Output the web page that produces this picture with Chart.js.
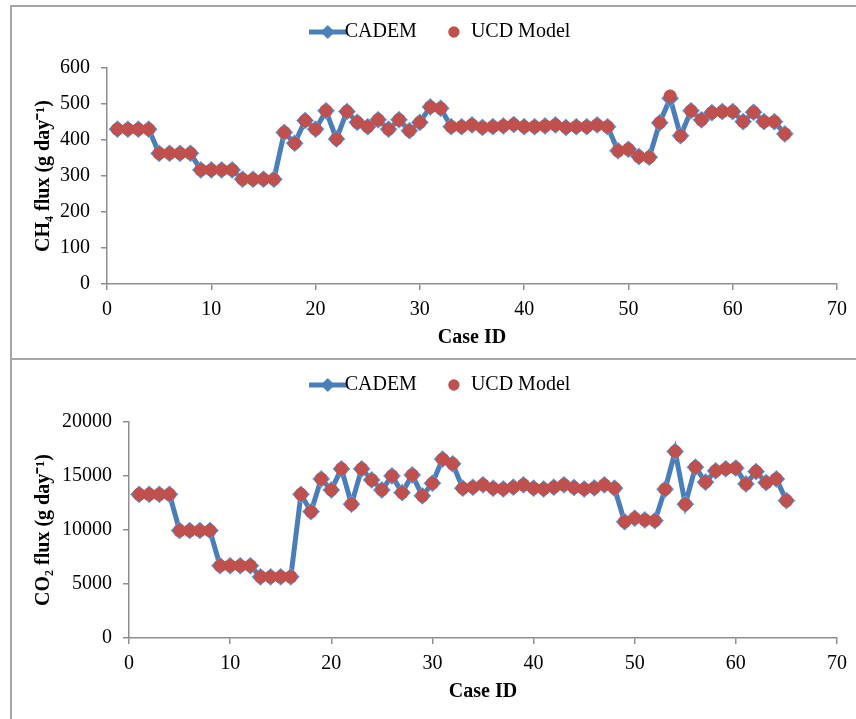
<!DOCTYPE html>
<html>
<head>
<meta charset="utf-8">
<title>CADEM vs UCD Model</title>
<script src="https://cdn.jsdelivr.net/npm/chart.js@4/dist/chart.umd.min.js"></script>
<style>
  html, body { margin: 0; padding: 0; background: #fff; overflow: hidden; }
  body { width: 856px; height: 719px; position: relative; }
  .panel { position: absolute; left: 10px; width: 900px; border: 2px solid #a5a5a5; box-sizing: border-box; }
  #panel1 { top: 5px; height: 355px; }
  #panel2 { top: 358px; height: 400px; }
  canvas { position: absolute; }
  #ch4Chart { left: 12px; top: 7px; }
  #co2Chart { left: 12px; top: 360px; }
</style>
</head>
<body>
<div class="panel" id="panel1"></div>
<div class="panel" id="panel2"></div>
<canvas id="ch4Chart" width="844" height="351"></canvas>
<canvas id="co2Chart" width="844" height="359"></canvas>
<script>
// ==================== Data ====================
const caseIds = [
   1,  2,  3,  4,  5,  6,  7,  8,  9, 10, 11, 12, 13, 14, 15, 16, 17, 18, 19, 20,
  21, 22, 23, 24, 25, 26, 27, 28, 29, 30, 31, 32, 33, 34, 35, 36, 37, 38, 39, 40,
  41, 42, 43, 44, 45, 46, 47, 48, 49, 50, 51, 52, 53, 54, 55, 56, 57, 58, 59, 60,
  61, 62, 63, 64, 65
];

// CH4 flux (g day-1)
const cademCh4 = [
  430, 430, 430, 430, 363, 363, 363, 363, 317, 317, 317, 317, 291, 291, 291, 291, 421, 391, 454, 430,
  481, 403, 479, 449, 437, 456, 430, 456, 426, 449, 492, 488, 437, 437, 442, 435, 437, 439, 443, 437,
  437, 439, 442, 435, 437, 437, 442, 437, 370, 374, 354, 352, 448, 516, 412, 481, 456, 476, 479, 479,
  451, 477, 451, 451, 417
];
const ucdCh4 = [
  430, 430, 430, 430, 363, 363, 363, 363, 317, 317, 317, 317, 291, 291, 291, 291, 421, 391, 454, 430,
  481, 403, 479, 449, 437, 456, 430, 456, 426, 449, 492, 488, 437, 437, 442, 435, 437, 439, 443, 437,
  437, 439, 442, 435, 437, 437, 442, 437, 370, 374, 354, 352, 448, 522, 412, 481, 456, 476, 479, 479,
  451, 477, 451, 451, 417
];

// CO2 flux (g day-1)
const cademCo2 = [
  13300, 13300, 13300, 13300,  9950,  9950,  9950,  9950,  6690,  6690,  6690,  6690,  5660,  5660,  5660,  5660, 13300, 11700, 14730, 13710,
  15660, 12390, 15660, 14640, 13710, 15010, 13460, 15100, 13160, 14330, 16560, 16130, 13870, 13960, 14180, 13870, 13800, 13960, 14180, 13870,
  13800, 13960, 14180, 13930, 13800, 13900, 14180, 13870, 10770, 11090, 10930, 10860, 13780, 17270, 12390, 15820, 14430, 15480, 15660, 15730,
  14270, 15410, 14390, 14730, 12720
];
const ucdCo2 = [
  13300, 13300, 13300, 13300,  9950,  9950,  9950,  9950,  6690,  6690,  6690,  6690,  5660,  5660,  5660,  5660, 13300, 11700, 14730, 13710,
  15660, 12390, 15660, 14640, 13710, 15010, 13460, 15100, 13160, 14330, 16560, 16130, 13870, 13960, 14180, 13870, 13800, 13960, 14180, 13870,
  13800, 13960, 14180, 13930, 13800, 13900, 14180, 13870, 10770, 11090, 10930, 10860, 13780, 17270, 12390, 15820, 14430, 15480, 15660, 15730,
  14270, 15410, 14390, 14730, 12720
];

const seriesNames = ['CADEM', 'UCD Model'];

// ==================== Style ====================
const BLUE = '#4a7ebb';
const BLUE_EDGE = '#7aa6dc';
const RED = '#c0504d';
const AXIS = '#8e8e8e';
const FONT = 'Liberation Serif, Times New Roman, serif';

// legend marker for CADEM: line with a diamond in the middle
function makeLineDiamondIcon() {
  const c = document.createElement('canvas');
  c.width = 38; c.height = 16;
  const g = c.getContext('2d');
  g.strokeStyle = BLUE; g.lineWidth = 5;
  g.beginPath(); g.moveTo(0, 8); g.lineTo(38, 8); g.stroke();
  g.fillStyle = BLUE;
  g.beginPath(); g.moveTo(19, 1); g.lineTo(26, 8); g.lineTo(19, 15); g.lineTo(12, 8); g.closePath(); g.fill();
  return c;
}
const cademIcon = makeLineDiamondIcon();

function toPoints(values) {
  return values.map((v, i) => ({ x: caseIds[i], y: v }));
}

// pushes the plot down below the legend, nudges the legend right
function legendSpacer(extra, dx) {
  return {
    id: 'legendSpacer',
    beforeInit(chart) {
      const fit = chart.legend.fit;
      chart.legend.fit = function () { fit.call(this); this.height += extra; };
    },
    afterLayout(chart) {
      chart.legend.left += dx;
      chart.legend.right += dx;
    }
  };
}

function buildChart(id, cadem, ucd, yTitle, yMax, yStep, o) {
  const ctx = document.getElementById(id).getContext('2d');
  return new Chart(ctx, {
    type: 'line',
    data: {
      datasets: [
        {
          label: seriesNames[0], data: toPoints(cadem), order: 2,
          borderColor: BLUE, borderWidth: 5, tension: 0,
          pointStyle: 'rectRot', pointRadius: 8.5, pointBackgroundColor: BLUE,
          pointBorderColor: BLUE_EDGE, pointBorderWidth: 1
        },
        {
          label: seriesNames[1], data: toPoints(ucd), order: 1,
          showLine: false, pointStyle: 'circle', pointRadius: 6.5,
          pointBackgroundColor: RED, pointBorderColor: RED, pointBorderWidth: 0
        }
      ]
    },
    options: {
      responsive: false,
      animation: false,
      events: [],
      layout: { padding: { top: -15, right: 19, bottom: o.bottomPad, left: 0 } },
      plugins: {
        tooltip: { enabled: false },
        legend: {
          position: 'top',
          labels: {
            color: '#000',
            font: { family: FONT, size: 20 },
            padding: 30,
            usePointStyle: true,
            boxWidth: 14,
            boxHeight: 8,
            generateLabels: () => [
              { text: seriesNames[0], pointStyle: cademIcon, fillStyle: BLUE, strokeStyle: BLUE, lineWidth: 0, datasetIndex: 0, hidden: false },
              { text: seriesNames[1], pointStyle: 'circle', fillStyle: RED, strokeStyle: RED, lineWidth: 0, datasetIndex: 1, hidden: false }
            ]
          }
        }
      },
      scales: {
        x: {
          type: 'linear', min: 0, max: 70,
          afterFit: s => { s.height = 74; },
          ticks: { stepSize: 10, color: '#000', font: { family: FONT, size: 20 }, padding: 8, maxRotation: 0 },
          grid: { drawOnChartArea: false, drawTicks: true, tickLength: 6, color: AXIS, lineWidth: 1.5 },
          border: { display: true, color: AXIS, width: 1.5 },
          title: { display: true, text: 'Case ID', color: '#000', font: { family: FONT, size: 20, weight: 'bold' }, padding: { top: 0, bottom: 8 } }
        },
        y: {
          min: 0, max: yMax,
          afterFit: s => { s.width = o.yWidth; },
          ticks: { stepSize: yStep, color: '#000', font: { family: FONT, size: 20 }, padding: 11,
                   callback: v => String(v) },
          grid: { drawOnChartArea: false, drawTicks: true, tickLength: 6, color: AXIS, lineWidth: 1.5 },
          border: { display: true, color: AXIS, width: 1.5 },
          title: { display: true, text: yTitle, color: '#000', font: { family: FONT, size: 20, weight: 'bold' }, padding: { top: 20, bottom: 0 } }
        }
      }
    },
    plugins: [legendSpacer(o.legendExtra, 21)]
  });
}

// ==================== Init ====================
buildChart('ch4Chart', cademCh4, ucdCh4, 'CH\u2084 flux (g day\u207B\u00B9)', 600, 100,
  { yWidth: 95, legendExtra: 16, bottomPad: 0 });
buildChart('co2Chart', cademCo2, ucdCo2, 'CO\u2082 flux (g day\u207B\u00B9)', 20000, 5000,
  { yWidth: 117, legendExtra: 17, bottomPad: 7 });
</script>
</body>
</html>
